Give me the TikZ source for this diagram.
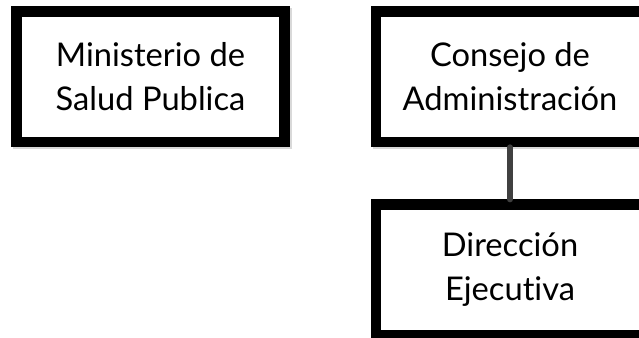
\documentclass[tikz,border=0pt]{standalone}
\usepackage{fontspec}
\setmainfont{Lato}[Ligatures=CommonOff]
\usetikzlibrary{shadows}
\definecolor{LinkClr}{rgb}{0.25,0.25,0.25}

\begin{document}
\begin{tikzpicture}[x=0.75pt,y=-0.75pt]
\tikzset{
  orgbox/.style={draw=black,fill=white,line width=8pt,minimum width=201pt,
    minimum height=98pt,align=center,font=\fontsize{24.5}{33}\selectfont,
    drop shadow={shadow xshift=1.5pt,shadow yshift=-1.5pt,draw=black!15,
      fill=black!15,line width=8pt,opacity=1}},
  link/.style={draw=LinkClr,line width=4.5pt,line cap=round}
}
\useasboundingbox (0,0) rectangle (639,337);

\node[orgbox] (msp) at (150.5,76.7) {Ministerio de\\Salud Publica};
\node[orgbox] (cons) at (510,76.7) {Consejo de\\Administración};
\node[orgbox] (dir) at (510,270) {Dirección\\Ejecutiva};

\draw[link] (cons.south) -- (dir.north);

\end{tikzpicture}
\end{document}
